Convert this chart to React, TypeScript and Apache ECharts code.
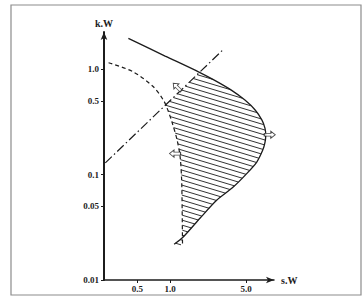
import React, { useEffect, useRef } from "react";
import * as echarts from "echarts";

// Solid boundary curve (s.W, k.W)
const solidS = [0.4135, 0.8995, 1.821, 2.545, 3.649, 4.866, 6.04, 6.977, 7.433, 7.561, 7.448, 7.096, 6.249, 5.077, 3.798, 2.689, 1.888, 1.326, 1.089];
const solidK = [1.954, 1.331, 0.9428, 0.7864, 0.6324, 0.5084, 0.4097, 0.3286, 0.2759, 0.2368, 0.2033, 0.1707, 0.1314, 0.1026, 0.0761, 0.0573, 0.0387, 0.0257, 0.0218];
// Dashed boundary curve
const dashedS = [0.272, 0.457, 0.702, 0.868, 0.938, 1.04, 1.16, 1.236, 1.276, 1.29, 1.3];
const dashedK = [1.15, 0.943, 0.68, 0.508, 0.427, 0.315, 0.212, 0.147, 0.0887, 0.046, 0.0215];
// Dash-dot straight line
const dashDotS = [0.254, 3.05];
const dashDotK = [0.129, 1.52];
// Hollow arrows
const arrowS = [1.16, 8.23, 1.11];
const arrowK = [0.675, 0.239, 0.158];
const arrowAngle = [135, 0, 180];
// Axis ticks
const xTicks = [0.5, 1, 5];
const xTickLabels = ["0.5", "1.0", "5.0"];
const yTicks = [0.01, 0.05, 0.1, 0.5, 1];
const yTickLabels = ["0.01", "0.05", "0.1", "0.5", "1.0"];

const INK = "#1c1c1c";
const FONT = "'Liberation Serif', 'DejaVu Serif', serif";

function nearestLabel(v: number, ticks: number[], labels: string[]) {
  let best = 0;
  let bd = Infinity;
  ticks.forEach((t, i) => {
    const d = Math.abs(Math.log10(v) - Math.log10(t));
    if (d < bd) {
      bd = d;
      best = i;
    }
  });
  return labels[best];
}

export default function App() {
  const ref = useRef<HTMLDivElement>(null);
  useEffect(() => {
    if (!ref.current) return;
    const chart = echarts.init(ref.current, null, { renderer: "svg" });

    const renderHatch = (params: any, api: any) => {
      const solidPx = solidS.map((s, i) => api.coord([s, solidK[i]]));
      const dashedPx = dashedS.map((s, i) => api.coord([s, dashedK[i]]));
      let poly: number[][] = [...solidPx, ...dashedPx.slice().reverse()];
      const a = api.coord([dashDotS[0], dashDotK[0]]);
      const b = api.coord([dashDotS[1], dashDotK[1]]);
      const side = (p: number[]) => (b[0] - a[0]) * (p[1] - a[1]) - (b[1] - a[1]) * (p[0] - a[0]);
      let ref = solidPx[0];
      solidPx.forEach((p: number[]) => {
        if (p[0] > ref[0]) ref = p;
      });
      const sgn = Math.sign(side(ref));
      const inside = (p: number[]) => side(p) * sgn >= 0;
      const out: number[][] = [];
      for (let i = 0; i < poly.length; i++) {
        const p = poly[i];
        const q = poly[(i + 1) % poly.length];
        const ip = inside(p);
        const iq = inside(q);
        if (ip) out.push(p);
        if (ip !== iq) {
          const sp = side(p);
          const sq = side(q);
          const t = sp / (sp - sq);
          out.push([p[0] + t * (q[0] - p[0]), p[1] + t * (q[1] - p[1])]);
        }
      }
      poly = out;
      const m = 0.3;
      const spacing = 5;
      let cmin = Infinity;
      let cmax = -Infinity;
      poly.forEach((p) => {
        const c = p[1] - m * p[0];
        cmin = Math.min(cmin, c);
        cmax = Math.max(cmax, c);
      });
      const children: any[] = [];
      for (let c = cmin + spacing * 0.6; c < cmax; c += spacing) {
        const xs: number[] = [];
        for (let i = 0; i < poly.length; i++) {
          const p = poly[i];
          const q = poly[(i + 1) % poly.length];
          const fp = p[1] - m * p[0] - c;
          const fq = q[1] - m * q[0] - c;
          if ((fp < 0 && fq >= 0) || (fp >= 0 && fq < 0)) {
            const t = fp / (fp - fq);
            xs.push(p[0] + t * (q[0] - p[0]));
          }
        }
        xs.sort((u, v) => u - v);
        for (let j = 0; j + 1 < xs.length; j += 2) {
          children.push({
            type: "line",
            shape: { x1: xs[j], y1: m * xs[j] + c, x2: xs[j + 1], y2: m * xs[j + 1] + c },
            style: { stroke: INK, lineWidth: 0.9 },
            silent: true,
          });
        }
      }
      return { type: "group", children };
    };

    chart.setOption({
      animation: false,
      backgroundColor: "#fff",
      grid: { left: 104, right: 89, top: 32, bottom: 19, containLabel: false },
      graphic: [
        {
          type: "rect",
          shape: { x: 11, y: 5, width: 350, height: 290 },
          style: { fill: "none", stroke: "#8c8c8c", lineWidth: 1.2 },
          silent: true,
          z: -1,
        },
      ],
      xAxis: {
        type: "log",
        min: 0.247,
        max: 9,
        name: "s.W",
        nameLocation: "end",
        nameGap: 7,
        nameTextStyle: { fontFamily: FONT, fontWeight: "bold", fontSize: 10, color: INK },
        axisLine: { show: true, lineStyle: { color: INK, width: 1.5 }, symbol: ["none", "arrow"], symbolSize: [5, 8] },
        axisTick: { show: true, length: 3, customValues: xTicks, lineStyle: { color: INK } },
        axisLabel: {
          customValues: xTicks,
          margin: 4,
          fontFamily: FONT,
          fontWeight: "bold",
          fontSize: 9,
          color: INK,
          formatter: (v: number) => nearestLabel(v, xTicks, xTickLabels),
        },
        splitLine: { show: false },
        minorTick: { show: false },
      },
      yAxis: {
        type: "log",
        min: 0.01,
        max: 2.25,
        name: "k.W",
        nameLocation: "end",
        nameGap: 4,
        nameTextStyle: { fontFamily: FONT, fontWeight: "bold", fontSize: 10, color: INK },
        axisLine: { show: true, lineStyle: { color: INK, width: 2 }, symbol: ["none", "arrow"], symbolSize: [5, 8] },
        axisTick: { show: true, length: 3, customValues: yTicks, lineStyle: { color: INK } },
        axisLabel: {
          customValues: yTicks,
          margin: 5,
          fontFamily: FONT,
          fontWeight: "bold",
          fontSize: 9,
          color: INK,
          formatter: (v: number) => nearestLabel(v, yTicks, yTickLabels),
        },
        splitLine: { show: false },
        minorTick: { show: false },
      },
      series: [
        {
          type: "custom",
          renderItem: renderHatch,
          data: [[1, 0.1]],
          silent: true,
          z: 1,
        },
        {
          type: "line",
          data: solidS.map((s, i) => [s, solidK[i]]),
          showSymbol: false,
          smooth: 0.25,
          lineStyle: { color: INK, width: 1.3 },
          silent: true,
          z: 3,
        },
        {
          type: "line",
          data: dashedS.map((s, i) => [s, dashedK[i]]),
          showSymbol: false,
          smooth: 0.3,
          lineStyle: { color: INK, width: 1.2, type: [4, 3] },
          silent: true,
          z: 3,
        },
        {
          type: "line",
          data: dashDotS.map((s, i) => [s, dashDotK[i]]),
          showSymbol: false,
          lineStyle: { color: INK, width: 1.2, type: [9, 3, 1.5, 3] },
          silent: true,
          z: 3,
        },
        {
          type: "scatter",
          data: arrowS.map((s, i) => ({ value: [s, arrowK[i]], symbolRotate: arrowAngle[i] })),
          symbol: "path://M0,3L6,3L6,0L10,5L6,10L6,7L0,7Z",
          symbolSize: [11, 7],
          itemStyle: { color: "#fff", borderColor: INK, borderWidth: 0.9 },
          silent: true,
          z: 4,
        },
      ],
    });
    return () => chart.dispose();
  }, []);
  return <div ref={ref} style={{ position: "fixed", left: 0, top: 0, width: 363, height: 299 }} />;
}
